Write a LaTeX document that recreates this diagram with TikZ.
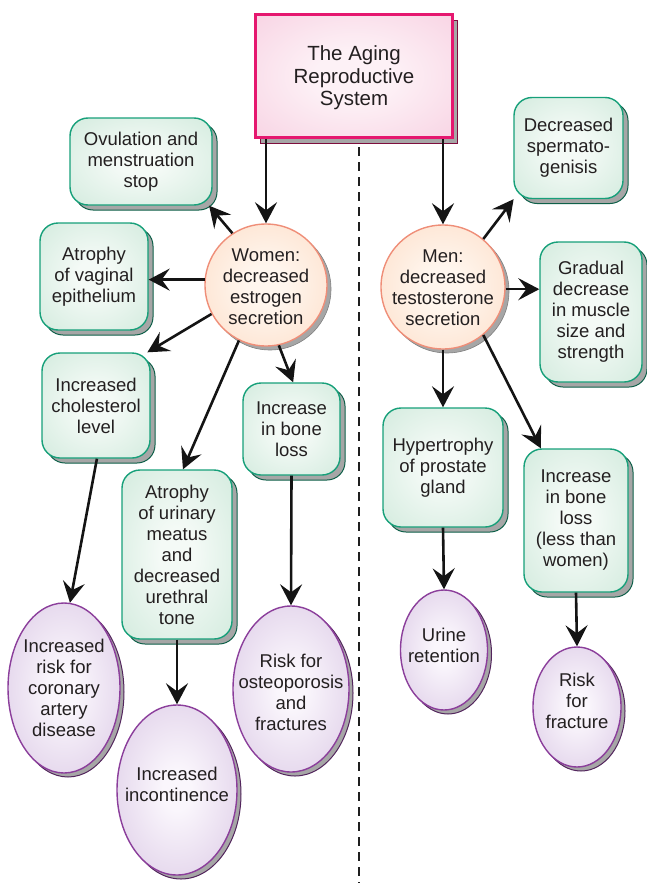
\documentclass[tikz,border=0pt]{standalone}
\usepackage{fontspec}
\setmainfont{Liberation Sans}
\usetikzlibrary{shapes.geometric,arrows.meta,shadows}

\definecolor{txt}{HTML}{231F20}
\definecolor{gin}{HTML}{F4FAF6}
\definecolor{gout}{HTML}{C8E6D6}
\definecolor{gborder}{HTML}{17A07A}
\definecolor{pin}{HTML}{FAF6FC}
\definecolor{pout}{HTML}{D4BFE0}
\definecolor{pborder}{HTML}{8B3E9B}
\definecolor{oin}{HTML}{FFF6EE}
\definecolor{oout}{HTML}{FCD6BC}
\definecolor{oborder}{HTML}{EF8E78}
\definecolor{tin}{HTML}{FDF1F6}
\definecolor{tout}{HTML}{F6C9DD}
\definecolor{tborder}{HTML}{E5176F}
\definecolor{shgray}{HTML}{A6A6A6}

\pgfdeclareradialshading{gshade}{\pgfpoint{0bp}{0bp}}{color(0bp)=(gin); color(8bp)=(gin); color(46bp)=(gout); color(50bp)=(gout)}
\pgfdeclareradialshading{pshade}{\pgfpoint{0bp}{0bp}}{color(0bp)=(pin); color(6bp)=(pin); color(44bp)=(pout); color(50bp)=(pout)}
\pgfdeclareradialshading{oshade}{\pgfpoint{0bp}{0bp}}{color(0bp)=(oin); color(8bp)=(oin); color(46bp)=(oout); color(50bp)=(oout)}
\pgfdeclareradialshading{tshade}{\pgfpoint{0bp}{0bp}}{color(0bp)=(tin); color(10bp)=(tin); color(46bp)=(tout); color(50bp)=(tout)}

\newcommand\diagfont{\fontsize{18.5}{21}\selectfont}
\newcommand\titlefont{\fontsize{20.5}{22.5}\selectfont}

\begin{document}
\begin{tikzpicture}[x=1pt,y=-1pt,
  gbox/.style={rounded corners=18pt, draw=gborder, line width=1.4pt, shading=gshade,
    align=center, inner sep=0pt, font=\diagfont, text=txt,
    drop shadow={shadow xshift=5pt, shadow yshift=-5pt, opacity=1, fill=shgray, draw=gborder!60!black, line width=1pt}},
  ell/.style={ellipse, draw=pborder, line width=1.4pt, shading=pshade, inner sep=0pt,
    drop shadow={shadow xshift=4pt, shadow yshift=-4pt, opacity=1, fill=shgray, draw=pborder!60!black, line width=1pt}},
  circ/.style={circle, draw=oborder, line width=1.4pt, shading=oshade, inner sep=0pt,
    minimum size=122pt,
    drop shadow={shadow xshift=4pt, shadow yshift=-4pt, opacity=1, fill=shgray, draw=gray, line width=0.6pt}},
  ttext/.style={align=center, inner sep=0pt, font=\diagfont, text=txt},
  titlebox/.style={draw=tborder, line width=2.5pt, shading=tshade, align=center, inner sep=0pt,
    font=\titlefont, text=txt, minimum width=197pt, minimum height=123pt,
    drop shadow={shadow xshift=5pt, shadow yshift=-6pt, opacity=1, fill=shgray, draw=tborder!55!black, line width=1.2pt}},
  conn/.style={line width=2.6pt, draw=black!92, -{Stealth[length=21pt,width=22pt,inset=8pt]}},
  dashline/.style={line width=2.4pt, draw=black!88, dash pattern=on 8.5pt off 6.5pt}
]
\useasboundingbox (0,0) rectangle (646,883);

% dashed divider
\coordinate (dtop) at (359,147);
\coordinate (dbot) at (359,883);
\draw[dashline] (dtop) -- (dbot);

% title
\node[titlebox] (T) at (354,76) {};
\node[align=center, inner sep=0pt, font=\titlefont, text=txt] (Tt) at (354,78) {The Aging\\Reproductive\\System};

% circles
\node[circ] (W) at (266,285) {};
\node[ttext] (Wt) at (266,287) {Women:\\decreased\\estrogen\\secretion};
\node[circ, minimum size=124pt] (M) at (443,287) {};
\node[ttext] (Mt) at (443,288) {Men:\\decreased\\testosterone\\secretion};

% green boxes (women)
\node[gbox, minimum width=142pt, minimum height=87pt] (Ov) at (141,161.5) {Ovulation and\\menstruation\\stop};
\node[gbox, minimum width=108pt, minimum height=107pt] (Vag) at (94,276.5) {Atrophy\\of vaginal\\epithelium};
\node[gbox, minimum width=108pt, minimum height=105pt] (Chol) at (96,405.5) {Increased\\cholesterol\\level};
\node[gbox, minimum width=97pt, minimum height=92pt] (WB) at (291.5,429) {Increase\\in bone\\loss};
\node[gbox, minimum width=110pt, minimum height=169pt] (Ur) at (177,554.5) {Atrophy\\of urinary\\meatus\\and\\decreased\\urethral\\tone};

% green boxes (men)
\node[gbox, minimum width=109pt, minimum height=101pt] (Sp) at (568.5,148) {Decreased\\spermato-\\genisis};
\node[gbox, minimum width=102pt, minimum height=140pt] (Mu) at (591,312) {Gradual\\decrease\\in muscle\\size and\\strength};
\node[gbox, minimum width=120pt, minimum height=119pt] (Pr) at (443,467.5) {Hypertrophy\\of prostate\\gland};
\node[gbox, minimum width=104pt, minimum height=143pt] (MB) at (576,520.5) {Increase\\in bone\\loss\\(less than\\women)};

% ellipses
\node[ell, minimum width=112pt, minimum height=170pt] (Cor) at (64,688) {};
\node[ttext] (Cort) at (64,688) {Increased\\risk for\\coronary\\artery\\disease};
\node[ell, minimum width=120pt, minimum height=170pt] (Inc) at (177,790) {};
\node[ttext] (Inct) at (177,784) {Increased\\incontinence};
\node[ell, minimum width=116pt, minimum height=166pt] (Ost) at (291,689) {};
\node[ttext] (Ostt) at (291,692) {Risk for\\osteoporosis\\and\\fractures};
\node[ell, minimum width=87pt, minimum height=120pt] (Uri) at (444,650) {};
\node[ttext] (Urit) at (444,645) {Urine\\retention};
\node[ell, minimum width=88pt, minimum height=120pt] (Fr) at (577,707) {};
\node[ttext] (Frt) at (577,701) {Risk\\for\\fracture};

% connectors
\draw[conn] (W.north |- T.south) -- (W.north);
\draw[conn] (M.north |- T.south) -- (M.north);
\draw[conn] (W.123) -- (Ov.-33);
\draw[conn] (W.175) -- (W.175 -| Vag.east);
\draw[conn] (W.208) -- (Chol.46);
\draw[conn] (W.244) -- (Ur.86);
\draw[conn] (W.-78) -- (WB.88);
\draw[conn] (Chol.-89) -- (Cor.86);
\draw[conn] (Ur.south) -- (Inc.north);
\draw[conn] (WB.south) -- (Ost.north);
\draw[conn] (M.50) -- (Sp.223);
\draw[conn] (M.-2) -- (M.-2 -| Mu.west);
\draw[conn] (M.south) -- (Pr.north);
\draw[conn] (M.-50) -- (MB.116);
\draw[conn] (Pr.south) -- (Uri.north);
\draw[conn] (MB.south) -- (Fr.north);
\end{tikzpicture}
\end{document}
